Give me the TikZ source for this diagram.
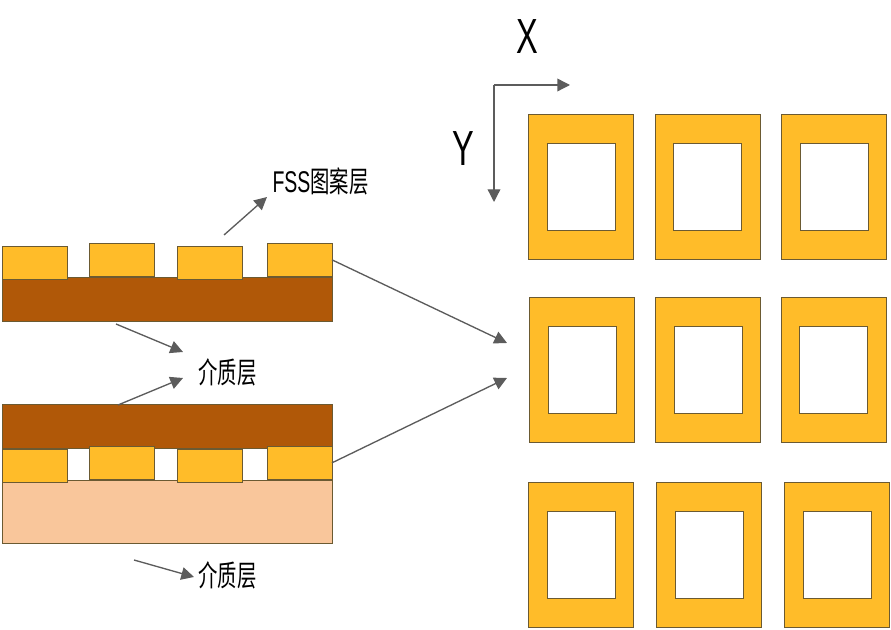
\documentclass[tikz,border=0pt]{standalone}
\usepackage{graphicx}
\usepackage{fontspec}
\setmainfont{Liberation Sans}
\newfontfamily\cjk{Noto Sans CJK SC}
\usetikzlibrary{arrows.meta}
\definecolor{gold}{HTML}{FFBC29}
\definecolor{rust}{HTML}{B05808}
\definecolor{peach}{HTML}{F9C69B}
\definecolor{edge}{HTML}{6B5A32}
\definecolor{pointer}{HTML}{5C5C5C}
\newcommand{\axistext}[1]{\scalebox{.66}[1]{\fontsize{37}{37}\selectfont #1}}
\newcommand{\layertext}[2]{\scalebox{.65}[1]{\fontsize{22.5}{26}\selectfont #1}\scalebox{.66}[1]{\fontsize{22}{26}\selectfont\cjk #2}}

\begin{document}
\begin{tikzpicture}[
  x=.75pt,y=-.75pt,
  block/.style={draw=edge,line width=.75pt,inner sep=0pt,outer sep=0pt,anchor=north west},
  patch/.style={block,fill=gold,minimum width=48.75pt,minimum height=24.5pt},
  slab/.style={block,minimum width=247.5pt},
  frame/.style={block,fill=gold,minimum width=78.75pt,minimum height=108.75pt},
  hole/.style={block,fill=white,minimum width=51pt,minimum height=65.5pt},
  flow/.style={-{Triangle[length=9.5pt,width=9.5pt]},pointer,line width=1pt},
  label/.style={inner sep=0pt,text=black}]
\useasboundingbox (0,0) rectangle (891,630);
% layer stacks
\node[slab,fill=rust,minimum height=33.25pt] (upperbase) at (2,277.5) {};
\node[slab,fill=peach,minimum height=47pt] (lowerbase) at (2,480.5) {};
\node[slab,fill=rust,minimum height=33.25pt] (lowertop) at (2,404.5) {};
\foreach \n/\x/\y in {a/2/246.5,b/89/243.5,c/177/246.5,d/267/243.5,e/2/449.5,f/89/446.5,g/177/449.5,h/267/446.5}
  \node[patch] (patch\n) at (\x,\y) {};
% unit cells
\foreach \n/\x/\y/\u/\v in {1/528/114.5/547/143.5,2/655/114.5/673/143.5,3/781/114.5/800/143.5,
  4/529/297.5/548/326.5,5/655/297.5/674/326.5,6/781/297.5/799/326.5,
  7/528/482.5/547/511.5,8/656/482.5/675/511.5,9/784/482.5/803/511.5}{
  \node[frame] (frame\n) at (\x,\y) {};
  \node[hole] (hole\n) at (\u,\v) {};
}
% labels
\node[label] (fsslabel) at (320.5,181) {\layertext{FSS}{图案层}};
\node[label] (midlabel) at (227.5,372) {\layertext{}{介质层}};
\node[label] (lowlabel) at (227.5,575) {\layertext{}{介质层}};
\node[label] (xlabel) at (527,37) {\axistext{X}};
\node[label] (ylabel) at (463,149) {\axistext{Y}};
% connectors
\coordinate (fssfoot) at (224,235);
\coordinate (fsstip) at (267,197);
\coordinate (upperfoot) at (116,324);
\coordinate (uppertip) at (183,352);
\coordinate (lowerfoot) at (118,405);
\coordinate (lowertip) at (183,378);
\coordinate (lowfoot) at (134,560);
\coordinate (lowtip) at (194,577);
\coordinate (gridtopa) at (507,343);
\coordinate (gridtopb) at (507,378);
\coordinate (origin) at (494,85);
\coordinate (xtip) at (570,85);
\coordinate (ytip) at (494,202);
\foreach \a/\b in {fssfoot/fsstip,upperfoot/uppertip,lowerfoot/lowertip,lowfoot/lowtip,
  origin/xtip,origin/ytip,patchd.east/gridtopa,patchh.east/gridtopb}
  \draw[flow] (\a)--(\b);
\end{tikzpicture}
\end{document}
